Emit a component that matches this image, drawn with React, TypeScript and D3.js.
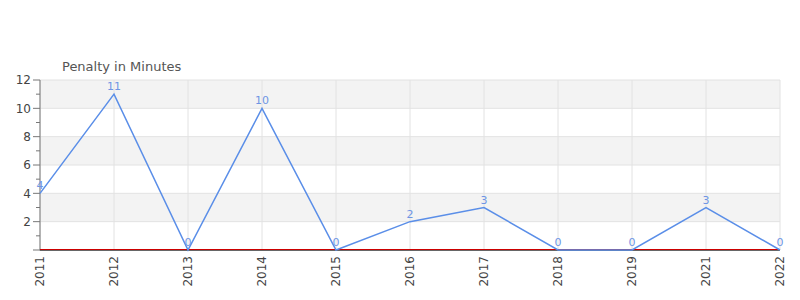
import React from "react";
import * as d3 from "d3";

const years = ["2011", "2012", "2013", "2014", "2015", "2016", "2017", "2018", "2019", "2021", "2022"];
const penalties = [4, 11, 0, 10, 0, 2, 3, 0, 0, 3, 0];
const yTicks = [2, 4, 6, 8, 10, 12];
const title = "Penalty in Minutes";

export default function App() {
  const W = 800, H = 300;
  const left = 40, right = 780, top = 80, bottom = 250;
  const x = d3.scalePoint<string>().domain(years).range([left, right]);
  const y = d3.scaleLinear().domain([0, 12]).range([bottom, top]);
  const line = d3
    .line<number>()
    .x((_, i) => x(years[i]) as number)
    .y((d) => y(d));
  const bands = d3.range(0, 12, 2);
  const minor = d3.range(1, 12, 2);
  const font = "DejaVu Sans, Verdana, sans-serif";
  return (
    <svg width={W} height={H} style={{ position: "absolute", left: 0, top: 0 }} fontFamily={font}>
      {bands.map((b, i) => (
        <rect
          key={b}
          x={left}
          y={y(b + 2)}
          width={right - left}
          height={y(b) - y(b + 2)}
          fill={i % 2 === 1 ? "#f3f3f3" : "#ffffff"}
        />
      ))}
      {yTicks.map((t) => (
        <line key={"g" + t} x1={left} x2={right} y1={y(t)} y2={y(t)} stroke="#e2e2e2" strokeWidth={1} />
      ))}
      {years.map((yr) => (
        <line key={"v" + yr} x1={x(yr)} x2={x(yr)} y1={top} y2={bottom} stroke="#e2e2e2" strokeWidth={1} />
      ))}
      <line x1={left} x2={left} y1={top} y2={bottom + 0.5} stroke="#777" strokeWidth={1} />
      {[0, ...yTicks].map((t) => (
        <line key={"t" + t} x1={left - 7} x2={left} y1={y(t)} y2={y(t)} stroke="#777" strokeWidth={1} />
      ))}
      {minor.map((t) => (
        <line key={"m" + t} x1={left - 4} x2={left} y1={y(t)} y2={y(t)} stroke="#777" strokeWidth={1} />
      ))}
      {yTicks.map((t) => (
        <text key={"l" + t} x={left - 9} y={y(t)} dy="0.35em" textAnchor="end" fontSize={12} fill="#444">
          {t}
        </text>
      ))}
      <line x1={left} x2={right} y1={bottom + 0.5} y2={bottom + 0.5} stroke="#666" strokeWidth={1} />
      <line x1={left} x2={right} y1={bottom - 0.5} y2={bottom - 0.5} stroke="#cc0000" strokeWidth={1} />
      <path d={line(penalties) || ""} fill="none" stroke="#5a8ee8" strokeWidth={1.5} />
      {penalties.map((v, i) => (
        <text
          key={"d" + i}
          x={x(years[i])}
          y={y(v) - 4}
          textAnchor="middle"
          fontSize={11}
          fill="#6e95e4"
        >
          {v}
        </text>
      ))}
      {years.map((yr) => (
        <text
          key={"x" + yr}
          transform={`translate(${(x(yr) as number) + 4},${bottom + 6}) rotate(-90)`}
          textAnchor="end"
          fontSize={12}
          fill="#444"
        >
          {yr}
        </text>
      ))}
      <text x={62} y={71} fontSize={13} fill="#555">
        {title}
      </text>
    </svg>
  );
}
